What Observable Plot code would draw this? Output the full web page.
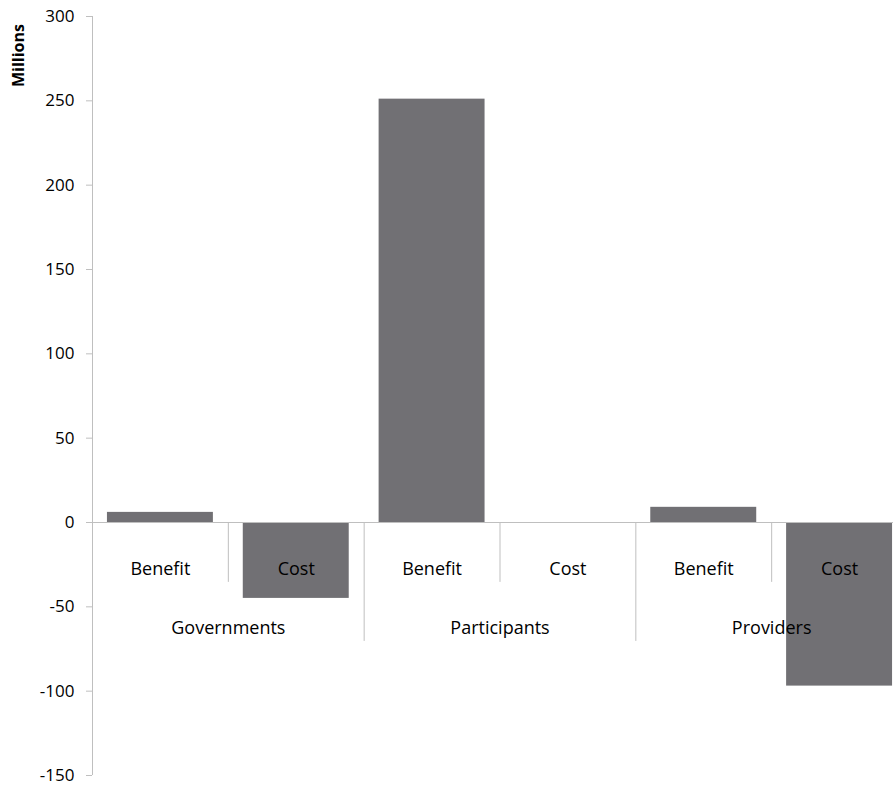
<!DOCTYPE html>
<html>
<head>
<meta charset="utf-8">
<script src="https://cdn.jsdelivr.net/npm/d3@7"></script>
<script src="https://cdn.jsdelivr.net/npm/@observablehq/plot@0.6"></script>
<style>
  html, body { margin: 0; padding: 0; background: #fff; overflow: hidden; }
  #chart { width: 893px; height: 787px; overflow: hidden; }
  #chart svg { max-width: none !important; }
</style>
</head>
<body>
<div id="chart"></div>
<script>
const groups = ["Governments", "Participants", "Providers"];
const types = ["Benefit", "Cost"];
const values = [6, -45, 251, 0, 9, -97];   // Gov B, Gov C, Part B, Part C, Prov B, Prov C
const yTicks = [-150, -100, -50, 0, 50, 100, 150, 200, 250, 300];

const rows = [];
groups.forEach((g, gi) => types.forEach((t, ti) => {
  const i = gi * types.length + ti;
  rows.push({i, group: g, type: t, value: values[i]});
}));
const groupRows = groups.map((g, gi) => ({group: g, center: gi * types.length + types.length / 2}));
const boundaries = d3.range(1, rows.length).map(b => ({b, long: b % types.length === 0}));

const barColor = "#717074";
const lineColor = "#bfbfbf";

const chart = Plot.plot({
  width: 907,
  height: 787,
  marginLeft: 92,
  marginRight: 0,
  marginTop: 16,
  marginBottom: 12,
  style: {fontFamily: "'Open Sans', sans-serif", fontSize: "16px", color: "#000", background: "#fff", maxWidth: "none"},
  x: {type: "linear", domain: [0, rows.length], axis: null},
  y: {domain: [-150, 300], axis: null},
  marks: [
    Plot.axisY({ticks: yTicks, tickSize: 6, tickPadding: 12, stroke: lineColor, fill: "#000", fontSize: 17, label: null, tickFormat: d => String(d)}),
    Plot.ruleX([0], {stroke: lineColor}),
    Plot.rectY(rows, {x1: d => d.i + 0.11, x2: d => d.i + 0.89, y1: 0, y2: "value", fill: barColor}),
    Plot.ruleY([0], {stroke: lineColor}),
    Plot.ruleX(boundaries, {x: "b", y1: 0, y2: d => d.long ? -70.5 : -35.5, stroke: lineColor}),
    Plot.text(rows, {x: d => d.i + 0.5, y: 0, text: "type", dy: 47, fill: "#000", fontSize: 18}),
    Plot.text(groupRows, {x: "center", y: 0, text: "group", dy: 106, fill: "#000", fontSize: 18}),
    Plot.text(["Millions"], {frameAnchor: "top-left", dx: -74, dy: 39, rotate: -90, text: d => d, textAnchor: "middle", lineAnchor: "middle", fontWeight: "bold", fontSize: 16, fill: "#000"})
  ]
});
document.getElementById("chart").appendChild(chart);
</script>
</body>
</html>
